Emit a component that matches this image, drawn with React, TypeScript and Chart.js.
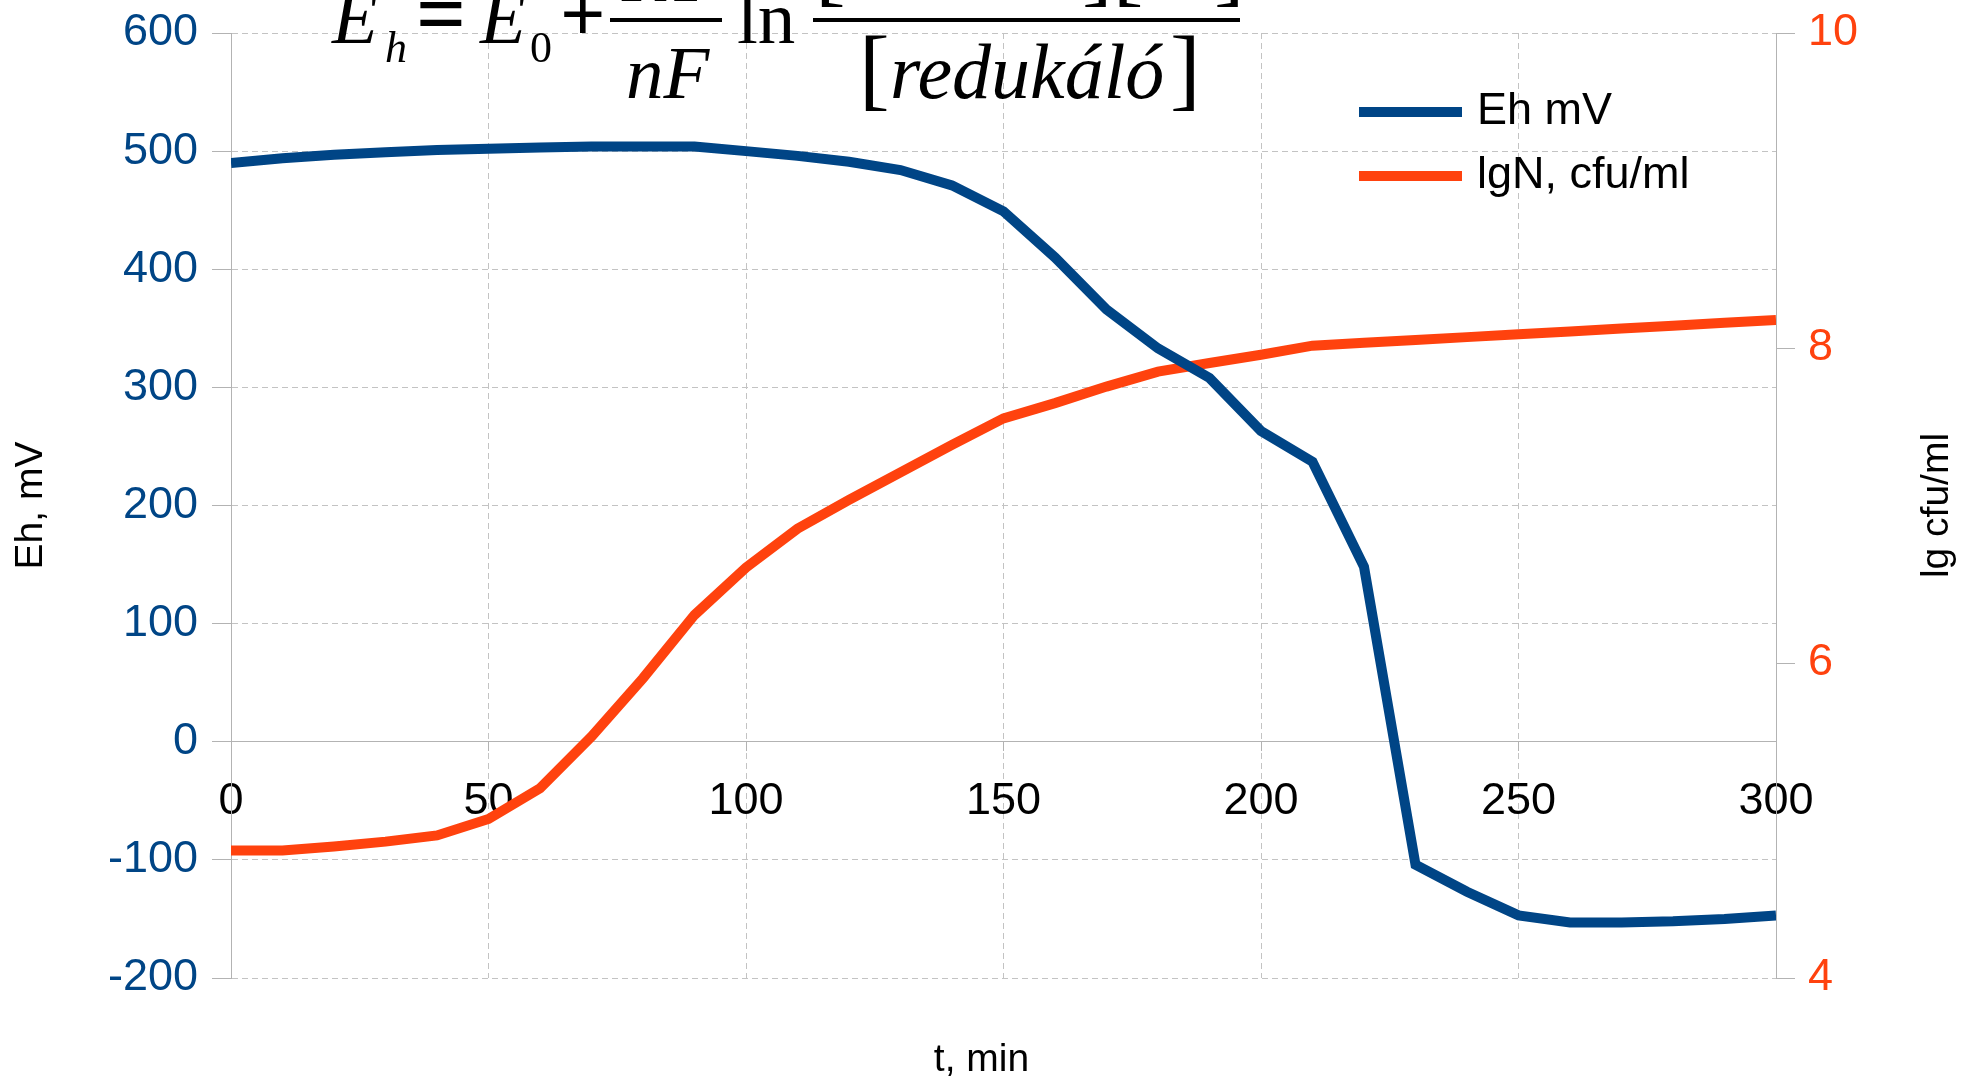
import React, { useEffect, useRef } from 'react';
import { Chart, registerables } from 'chart.js';

Chart.register(...registerables);

// ---- data ----
const timeMin = [0, 10, 20, 30, 40, 50, 60, 70, 80, 90, 100, 110, 120, 130, 140, 150, 160, 170, 180, 190, 200, 210, 220, 230, 240, 250, 260, 270, 280, 290, 300];
const ehMv = [490, 494, 497, 499, 501, 502, 503, 504, 504, 504, 500, 496, 491, 484, 471, 449, 410, 366, 333, 308, 263, 237, 148, -104, -127, -147, -153, -153, -152, -150, -147];
const lgN = [4.81, 4.81, 4.835, 4.866, 4.905, 5.01, 5.205, 5.533, 5.903, 6.305, 6.606, 6.853, 7.035, 7.21, 7.385, 7.553, 7.65, 7.755, 7.85, 7.905, 7.957, 8.015, 8.033, 8.051, 8.069, 8.087, 8.105, 8.124, 8.142, 8.16, 8.178];

const xTickValues = [0, 50, 100, 150, 200, 250, 300];
const ehTickValues = [-200, -100, 0, 100, 200, 300, 400, 500, 600];
const lgTickValues = [4, 6, 8, 10];

const seriesLabels = ['Eh mV', 'lgN, cfu/ml'];
const xTitle = 't, min';
const ehTitle = 'Eh, mV';
const lgTitle = 'lg cfu/ml';

const BLUE = '#004586';
const ORANGE = '#ff420e';
const GRID = '#c3c3c3';
const AXIS = '#b3b3b3';
const SANS = '"Liberation Sans", Arial, sans-serif';
const SERIF = '"Liberation Serif", "Times New Roman", serif';

const drawFormula = (ctx: CanvasRenderingContext2D) => {
  ctx.save();
  ctx.fillStyle = '#000';
  ctx.textBaseline = 'alphabetic';
  ctx.textAlign = 'left';
  const it = (s: number) => `italic ${s}px ${SERIF}`;
  const up = (s: number, w = 'normal') => `${w} ${s}px ${SERIF}`;
  const put = (t: string, x: number, y: number, f: string) => {
    ctx.font = f;
    ctx.fillText(t, x, y);
  };
  put('E', 332, 43, it(75));
  put('h', 385, 62, it(44));
  put('=', 416, 44, up(88, 'bold'));
  put('E', 480, 43, it(75));
  put('0', 530, 62, up(44));
  put('+', 560, 41, up(80, 'bold'));
  ctx.fillRect(610, 18, 112, 4);
  put('RT', 622, 1, it(75));
  put('nF', 626, 98, it(75));
  put('ln', 737, 43, up(75));
  ctx.fillRect(813, 18, 427, 4);
  put('[', 815, -5, up(92));
  put('oxidáló', 848, -5, it(75));
  put('][', 1082, -5, up(92));
  put('H⁺', 1140, -5, it(75));
  put(']', 1214, -5, up(92));
  put('[', 859, 99, up(92));
  put('redukáló', 890, 98, it(78));
  put(']', 1170, 99, up(92));
  ctx.restore();
};

const overlayPlugin = {
  id: 'overlay',
  afterDraw(chart: any) {
    const ctx: CanvasRenderingContext2D = chart.ctx;
    const area = chart.chartArea;
    // legend
    ctx.save();
    const colors = [BLUE, ORANGE];
    const rows = [112, 176];
    seriesLabels.forEach((label, i) => {
      ctx.strokeStyle = colors[i];
      ctx.lineWidth = 10;
      ctx.beginPath();
      ctx.moveTo(1359, rows[i]);
      ctx.lineTo(1462, rows[i]);
      ctx.stroke();
      ctx.fillStyle = '#000';
      ctx.font = `45px ${SANS}`;
      ctx.textBaseline = 'middle';
      ctx.textAlign = 'left';
      ctx.fillText(label, 1477, rows[i]);
    });
    // right axis title (reads bottom to top)
    ctx.translate(1937, (area.top + area.bottom) / 2);
    ctx.rotate(-Math.PI / 2);
    ctx.textAlign = 'center';
    ctx.textBaseline = 'middle';
    ctx.font = `39px ${SANS}`;
    ctx.fillText(lgTitle, 0, 0);
    ctx.restore();
    drawFormula(ctx);
  },
};

export default function App() {
  const ref = useRef<HTMLCanvasElement | null>(null);
  useEffect(() => {
    if (!ref.current) return;
    const chart = new Chart(ref.current, {
      type: 'line',
      data: {
        datasets: [
          {
            label: seriesLabels[0],
            data: timeMin.map((t, i) => ({ x: t, y: ehMv[i] })),
            borderColor: BLUE,
            backgroundColor: BLUE,
            borderWidth: 10,
            pointRadius: 0,
            tension: 0,
            yAxisID: 'y',
          },
          {
            label: seriesLabels[1],
            data: timeMin.map((t, i) => ({ x: t, y: lgN[i] })),
            borderColor: ORANGE,
            backgroundColor: ORANGE,
            borderWidth: 10,
            pointRadius: 0,
            tension: 0,
            yAxisID: 'y1',
          },
        ],
      },
      options: {
        responsive: false,
        animation: false,
        layout: { padding: { top: 33, left: 0, right: 0, bottom: 0 } },
        plugins: {
          legend: { display: false },
          tooltip: { enabled: false },
          title: {
            display: true,
            text: xTitle,
            position: 'bottom',
            color: '#000',
            font: { family: SANS, size: 39, weight: 'normal', lineHeight: 1 },
            padding: { top: 63, bottom: 0 },
          },
        },
        scales: {
          x: {
            type: 'linear',
            position: { y: 0 } as any,
            min: 0,
            max: 300,
            afterBuildTicks: (s: any) => {
              s.ticks = xTickValues.map((v) => ({ value: v }));
            },
            afterFit: (s: any) => {
              s.paddingLeft = 0;
              s.paddingRight = 0;
            },
            ticks: {
              color: '#000',
              font: { family: SANS, size: 45 },
              padding: 24,
              maxRotation: 0,
            },
            grid: { color: GRID, tickColor: AXIS, tickLength: 9, tickBorderDash: [] } as any,
            border: { display: true, color: AXIS, width: 1, dash: [6, 4] },
          },
          y: {
            type: 'linear',
            position: 'left',
            min: -200,
            max: 600,
            afterBuildTicks: (s: any) => {
              s.ticks = ehTickValues.map((v) => ({ value: v }));
            },
            afterFit: (s: any) => {
              s.width = 231;
              s.paddingTop = 0;
              s.paddingBottom = 0;
            },
            ticks: {
              color: BLUE,
              font: { family: SANS, size: 45 },
              padding: 14,
            },
            title: {
              display: true,
              text: ehTitle,
              color: '#000',
              font: { family: SANS, size: 39 },
              padding: { top: 8, bottom: 0 },
            },
            grid: { color: GRID, tickColor: AXIS, tickLength: 19, tickBorderDash: [] } as any,
            border: { display: true, color: AXIS, width: 1, dash: [6, 4] },
          },
          y1: {
            type: 'linear',
            position: 'right',
            min: 4,
            max: 10,
            afterBuildTicks: (s: any) => {
              s.ticks = lgTickValues.map((v) => ({ value: v }));
            },
            afterFit: (s: any) => {
              s.width = 187;
              s.paddingTop = 0;
              s.paddingBottom = 0;
            },
            ticks: {
              color: ORANGE,
              font: { family: SANS, size: 45 },
              padding: 13,
            },
            grid: { drawOnChartArea: false, color: AXIS, tickColor: AXIS, tickLength: 19 },
            border: { display: true, color: AXIS, width: 1 },
          },
        },
      },
      plugins: [overlayPlugin],
    });
    return () => chart.destroy();
  }, []);
  return (
    <div style={{ position: 'absolute', left: 0, top: 0, width: 1963, height: 1080, background: '#fff' }}>
      <canvas ref={ref} width={1963} height={1080} style={{ display: 'block' }} />
    </div>
  );
}
